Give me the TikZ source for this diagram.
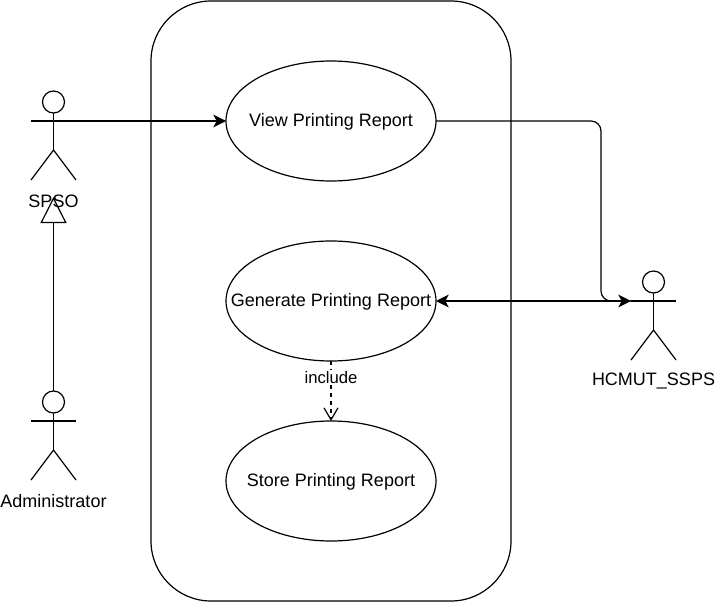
\documentclass[tikz,border=0pt]{standalone}
\usepackage{fontspec}
\setmainfont{Liberation Sans}
\usetikzlibrary{arrows.meta,shapes.geometric}
\newcommand{\ztext}[1]{\makebox[0pt][c]{\rule{0pt}{11.1pt}#1}}
\tikzset{
  base/.style={line width=0.9pt,draw=black},
  usecase/.style={base,ellipse,minimum width=157.5pt,minimum height=90pt,inner sep=0pt,outer sep=0pt,font=\fontsize{13.5pt}{16pt}\selectfont},
  frame/.style={base,rectangle,rounded corners=45pt,minimum width=270pt,minimum height=450pt,inner sep=0pt,outer sep=0pt},
  headnode/.style={base,circle,minimum size=16.5pt,inner sep=0pt,outer sep=0pt},
  lbl/.style={inner sep=0pt,font=\fontsize{13.5pt}{16pt}\selectfont},
  conn/.style={base},
  filledtip/.style={-{Stealth[length=9.5pt,width=9.5pt,inset=2.5pt]}},
  twotip/.style={{Stealth[length=9.5pt,width=9.5pt,inset=2.5pt]}-{Stealth[length=9.5pt,width=9.5pt,inset=2.5pt]}},
}
\newcommand{\actorfig}[3]{%
  \node[headnode] (#1-head) at (#2,#3) {};
  \coordinate (#1-larm) at (#2-22.5,#3+19);
  \coordinate (#1-rarm) at (#2+22.5,#3+19);
  \coordinate (#1-hip) at (#2,#3+48);
  \coordinate (#1-lfoot) at (#2-22.5,#3+78);
  \coordinate (#1-rfoot) at (#2+22.5,#3+78);
  \draw[base] (#1-head.south) -- (#1-hip);
  \draw[base] (#1-larm) -- (#1-rarm);
  \draw[base] (#1-lfoot) -- (#1-hip) -- (#1-rfoot);
}
\begin{document}
\begin{tikzpicture}[x=0.75pt,y=-0.75pt]
\useasboundingbox (0,0) rectangle (716,602);
\node[frame] (system) at (331,301) {};
\node[usecase] (view) at (331,121) {\ztext{View Printing Report}};
\node[usecase] (gen) at (331,301) {\ztext{Generate Printing Report}};
\node[usecase] (store) at (331,481) {\ztext{Store Printing Report}};
\actorfig{spso}{53.5}{102}
\actorfig{admin}{53.5}{402}
\actorfig{sys}{653.5}{282}
\node[lbl] (spsolabel) at (53.5,201) {SPSO};
\node[lbl] (adminlabel) at (53.5,501) {Administrator};
\node[lbl] (syslabel) at (653.5,381) {HCMUT\_SSPS};
\coordinate (triapex) at (53.5,197);
\draw[conn,-{Triangle[open,length=19.5pt,width=19.5pt]}] (admin-head.north) -- (triapex);
\draw[conn,filledtip] (spso-rarm) -- (view.west);
\coordinate (bendtop) at (601,121);
\coordinate (bendbot) at (601,301);
\draw[conn,rounded corners=7.5pt] (view.east) -- (bendtop) -- (bendbot) -- (sys-larm);
\draw[conn,twotip] (gen.east) -- (sys-larm);
\draw[conn,dash pattern=on 3pt off 3pt,-{Straight Barb[length=9pt,width=10.5pt]}] (gen.south) -- (store.north);
\node[lbl,fill=white,inner sep=1pt,font=\fontsize{12.5pt}{15pt}\selectfont] (inc) at (331,377.5) {include};
\end{tikzpicture}
\end{document}
